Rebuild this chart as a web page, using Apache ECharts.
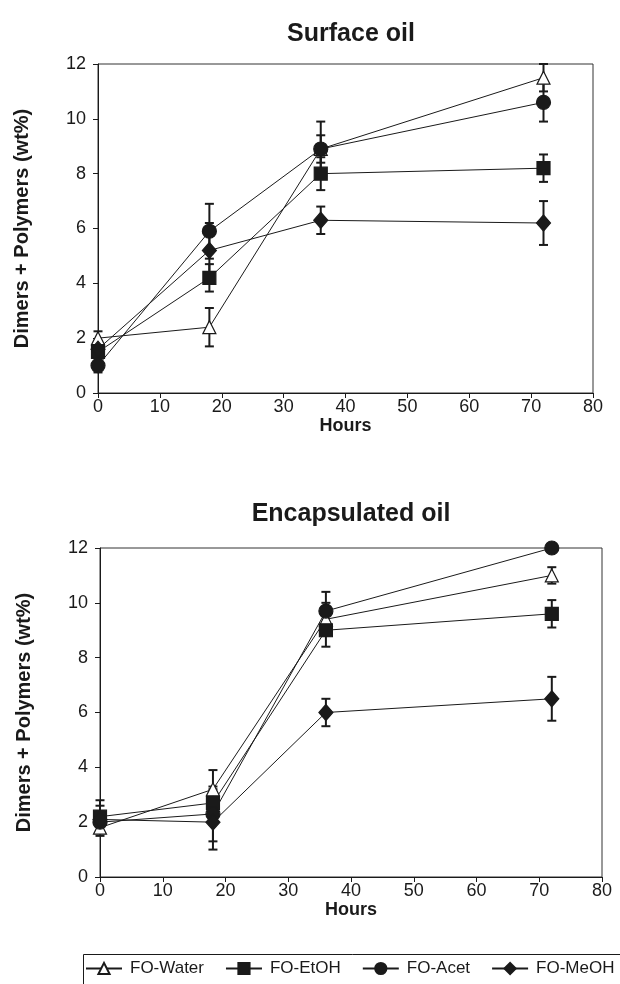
<!DOCTYPE html>
<html>
<head>
<meta charset="utf-8">
<script src="https://cdn.jsdelivr.net/npm/echarts@6/dist/echarts.min.js"></script>
<style>
html, body { margin: 0; padding: 0; background: #fff; }
#chart { width: 620px; height: 984px; }
</style>
</head>
<body>
<div id="chart"></div>
<script>
// sampling hours
var hours = [0, 18, 36, 72];
var seriesNames = ['FO-Water', 'FO-EtOH', 'FO-Acet', 'FO-MeOH'];

// surface oil
var surfWater = [2.0, 2.4, 8.9, 11.5];
var surfWaterErr = [0.25, 0.7, 0.5, 0.5];
var surfEtOH = [1.5, 4.2, 8.0, 8.2];
var surfEtOHErr = [0.2, 0.5, 0.6, 0.5];
var surfAcet = [1.0, 5.9, 8.9, 10.6];
var surfAcetErr = [0.25, 1.0, 1.0, 0.7];
var surfMeOH = [1.6, 5.2, 6.3, 6.2];
var surfMeOHErr = [0.2, 1.0, 0.5, 0.8];

// encapsulated oil
var encWater = [1.8, 3.2, 9.4, 11.0];
var encWaterErr = [0.3, 0.7, 0.6, 0.3];
var encEtOH = [2.2, 2.7, 9.0, 9.6];
var encEtOHErr = [0.6, 0.5, 0.6, 0.5];
var encAcet = [2.0, 2.3, 9.7, 12.0];
var encAcetErr = [0.4, 1.0, 0.7, 0.1];
var encMeOH = [2.1, 2.0, 6.0, 6.5];
var encMeOHErr = [0.5, 1.0, 0.5, 0.8];

var ink = '#1a1a1a';
var font = 'Liberation Sans, Arial, sans-serif';

var markers = [
	{ symbol: 'triangle', size: 13, fill: '#fff' },
	{ symbol: 'rect', size: 13, fill: ink },
	{ symbol: 'circle', size: 14, fill: ink },
	{ symbol: 'diamond', size: [14, 16], fill: ink }
];

function pairs(ys, errs) {
	var out = [];
	for (var i = 0; i < hours.length; i++) {
		out.push(errs ? [hours[i], ys[i], errs[i]] : [hours[i], ys[i]]);
	}
	return out;
}

// draws vertical error bar with caps
function renderErr(params, api) {
	var x = api.value(0), y = api.value(1), e = api.value(2);
	var top = api.coord([x, Math.min(y + e, 12)]);
	var bot = api.coord([x, y - e]);
	var w = 4.5;
	var st = { stroke: ink, lineWidth: 2 };
	return {
		type: 'group',
		children: [
			{ type: 'line', shape: { x1: top[0], y1: top[1], x2: bot[0], y2: bot[1] }, style: st },
			{ type: 'line', shape: { x1: top[0] - w, y1: top[1], x2: top[0] + w, y2: top[1] }, style: st },
			{ type: 'line', shape: { x1: bot[0] - w, y1: bot[1], x2: bot[0] + w, y2: bot[1] }, style: st }
		]
	};
}

var series = [];
function addGroup(idx, sets) {
	for (var k = 0; k < sets.length; k++) {
		series.push({
			type: 'custom',
			name: 'err' + idx + '-' + k,
			xAxisIndex: idx, yAxisIndex: idx,
			renderItem: renderErr,
			data: pairs(sets[k][0], sets[k][1]),
			z: 1,
			silent: true
		});
	}
	for (var k = 0; k < sets.length; k++) {
		series.push({
			type: 'line',
			name: seriesNames[k],
			xAxisIndex: idx, yAxisIndex: idx,
			data: pairs(sets[k][0]),
			symbol: markers[k].symbol,
			symbolSize: markers[k].size,
			showAllSymbol: true,
			lineStyle: { color: ink, width: 1 },
			itemStyle: { color: markers[k].fill, borderColor: ink, borderWidth: 1.2, opacity: 1 },
			z: 3
		});
	}
}
addGroup(0, [[surfWater, surfWaterErr], [surfEtOH, surfEtOHErr], [surfAcet, surfAcetErr], [surfMeOH, surfMeOHErr]]);
addGroup(1, [[encWater, encWaterErr], [encEtOH, encEtOHErr], [encAcet, encAcetErr], [encMeOH, encMeOHErr]]);

function xAx(idx) {
	return {
		type: 'value', gridIndex: idx, min: 0, max: 80, interval: 10,
		name: 'Hours', nameLocation: 'middle', nameGap: 19,
		nameTextStyle: { fontFamily: font, fontWeight: 'bold', fontSize: 18, color: ink },
		axisLine: { lineStyle: { color: ink, width: 1 } },
		axisTick: { lineStyle: { color: ink }, length: 5 },
		axisLabel: { fontFamily: font, fontSize: 18, color: ink, margin: 5 },
		splitLine: { show: false }
	};
}
function yAx(idx) {
	return {
		type: 'value', gridIndex: idx, min: 0, max: 12, interval: 2,
		name: 'Dimers + Polymers (wt%)', nameLocation: 'middle', nameGap: 66,
		nameTextStyle: { fontFamily: font, fontWeight: 'bold', fontSize: 20, color: ink },
		axisLine: { show: true, lineStyle: { color: ink, width: 1 } },
		axisTick: { show: true, lineStyle: { color: ink }, length: 5 },
		axisLabel: { fontFamily: font, fontSize: 18, color: ink, margin: 12 },
		splitLine: { show: false }
	};
}

var myChart = echarts.init(document.getElementById('chart'));
var option = {
	animation: false,
	backgroundColor: '#fff',
	title: [
		{ text: 'Surface oil', left: 346, top: 17, textAlign: 'center',
			textStyle: { fontFamily: font, fontWeight: 'bold', fontSize: 25, color: ink } },
		{ text: 'Encapsulated oil', left: 346, top: 497, textAlign: 'center',
			textStyle: { fontFamily: font, fontWeight: 'bold', fontSize: 25, color: ink } }
	],
	grid: [
		{ left: 98, top: 64, width: 495, height: 329, show: true, borderColor: '#333', borderWidth: 1 },
		{ left: 100, top: 548, width: 502, height: 329, show: true, borderColor: '#333', borderWidth: 1 }
	],
	xAxis: [xAx(0), xAx(1)],
	yAxis: [yAx(0), yAx(1)],
	// legend frame runs off the right edge like the original
	graphic: [{
		type: 'rect', left: 81, top: 952,
		shape: { width: 600, height: 40 },
		style: { fill: 'none', stroke: ink, lineWidth: 1 }
	}],
	legend: {
		data: seriesNames,
		left: 85, top: 960, width: 600,
		itemWidth: 36, itemHeight: 14, itemGap: 21,
		padding: 0,
		textStyle: { fontFamily: font, fontSize: 17, color: ink, padding: [0, 0, 0, 3] }
	},
	series: series
};
myChart.setOption(option);
</script>
</body>
</html>
